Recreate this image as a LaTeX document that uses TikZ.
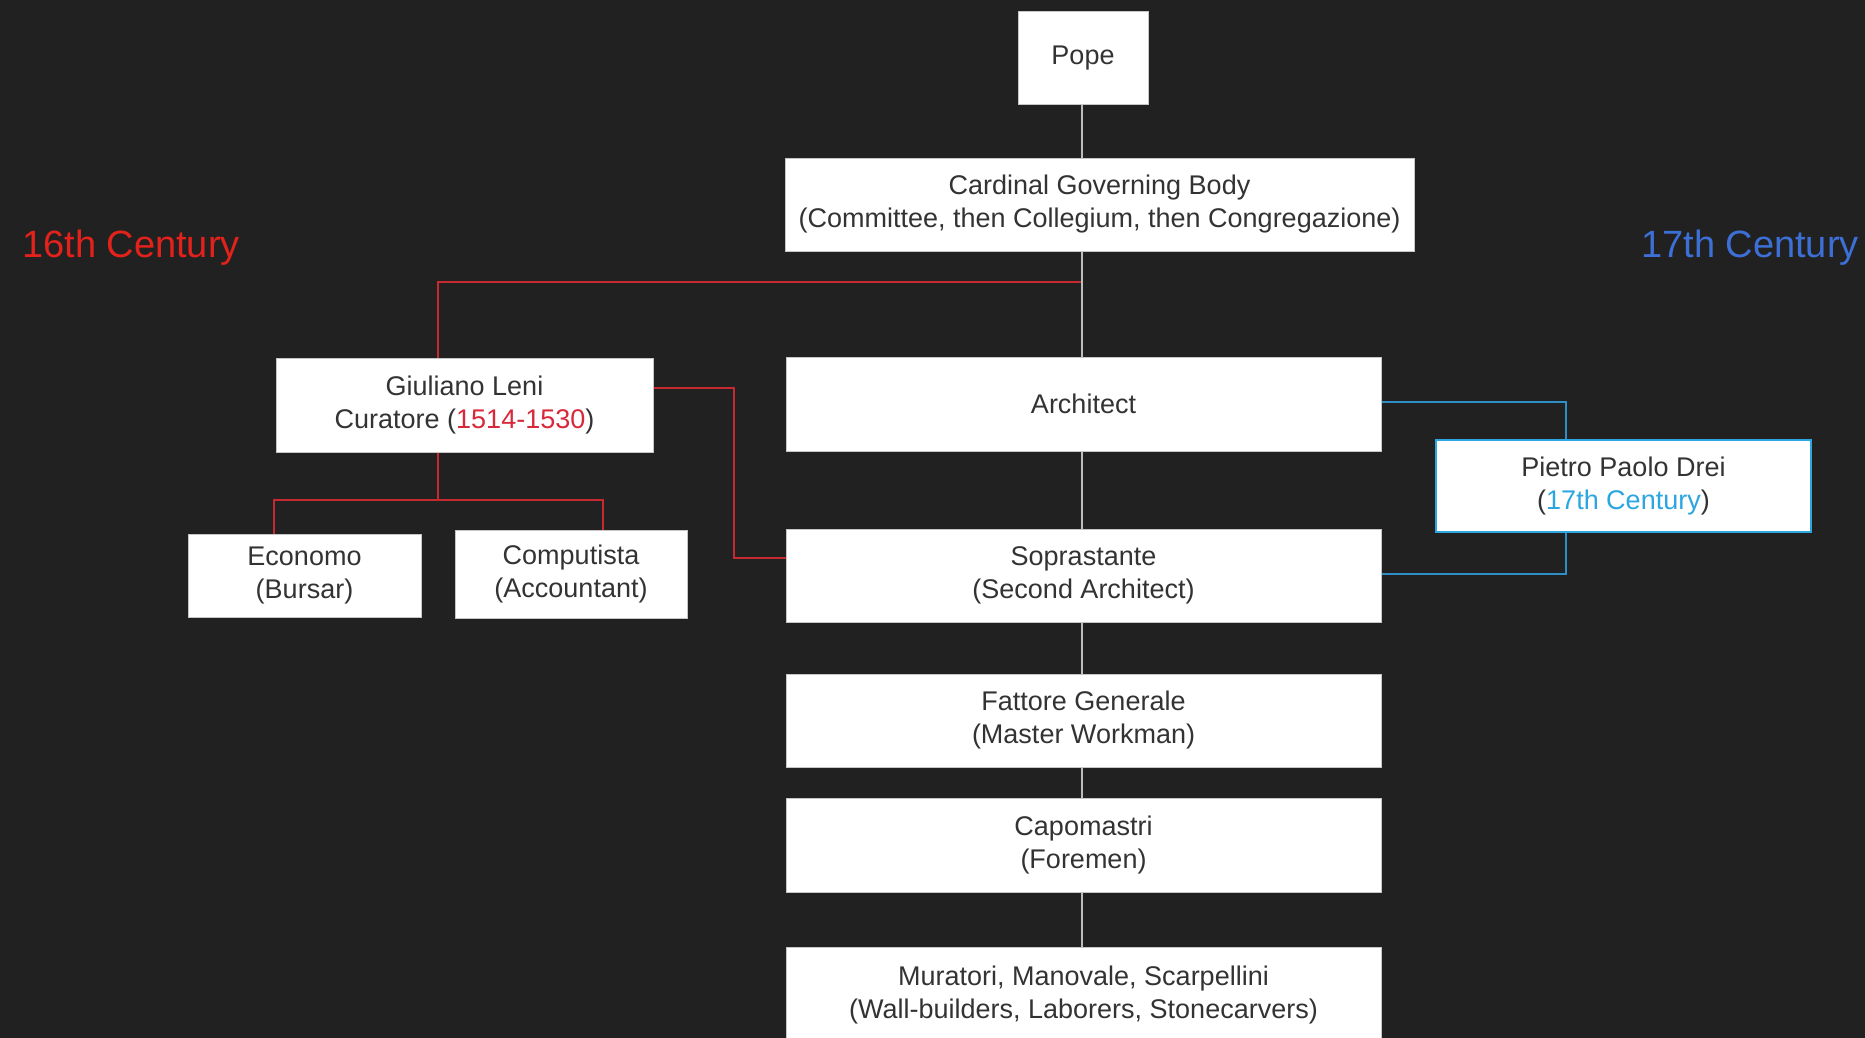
\documentclass[tikz,border=0pt]{standalone}
\usepackage{fontspec}
\setmainfont{Liberation Sans}
\definecolor{bgdark}{HTML}{212121}
\definecolor{boxtext}{HTML}{333333}
\definecolor{linegray}{HTML}{BDBDBD}
\definecolor{leniRed}{HTML}{C42A30}
\definecolor{dreiBlue}{HTML}{2E8FC6}
\definecolor{labelRed}{HTML}{E3221C}
\definecolor{labelBlue}{HTML}{3D70D6}
\definecolor{dateRed}{HTML}{D8283A}
\definecolor{dateBlue}{HTML}{2BA6E0}
\tikzset{
  office/.style={draw=gray!45, line width=1pt, fill=white, text=boxtext, align=center,
    inner sep=0pt, font=\fontsize{27}{33}\selectfont},
  chain/.style={draw=linegray, line width=2pt},
  curator/.style={draw=leniRed, line width=2.4pt},
  later/.style={draw=dreiBlue, line width=2.6pt},
  century/.style={font=\fontsize{38}{44}\selectfont}
}
\begin{document}
\begin{tikzpicture}[x=1pt, y=-1pt]
\fill[bgdark] (0,0) rectangle (1865,1038);
\useasboundingbox (0,0) rectangle (1865,1038);
\clip (0,0) rectangle (1865,1038);

\node[century, text=labelRed] (c16) at (131, 248) {16th Century};
\node[century, text=labelBlue] (c17) at (1750, 248) {17th Century};

\node[office, minimum width=130pt, minimum height=93pt] (pope) at (1083, 58.5) {Pope};
\node[office, minimum width=629pt, minimum height=93pt] (cardinal) at (1099.5, 204.5)
  {Cardinal Governing Body\\(Committee, then Collegium, then Congregazione)};
\node[office, minimum width=377pt, minimum height=94pt] (leni) at (464.5, 405)
  {Giuliano Leni\\Curatore (\textcolor{dateRed}{1514-1530})};
\node[office, minimum width=595pt, minimum height=94pt] (architect) at (1083.5, 404) {Architect};
\node[office, draw=dateBlue, line width=2.5pt, minimum width=375pt, minimum height=92pt] (drei) at (1623.5, 486)
  {Pietro Paolo Drei\\(\textcolor{dateBlue}{17th Century})};
\node[office, minimum width=233pt, minimum height=83pt] (economo) at (304.5, 575.5) {Economo\\(Bursar)};
\node[office, minimum width=232pt, minimum height=88pt] (computista) at (571, 574) {Computista\\(Accountant)};
\node[office, minimum width=595pt, minimum height=93pt] (soprastante) at (1083.5, 575.5)
  {Soprastante\\(Second Architect)};
\node[office, minimum width=595pt, minimum height=93pt] (fattore) at (1083.5, 720.5)
  {Fattore Generale\\(Master Workman)};
\node[office, minimum width=595pt, minimum height=94pt] (capomastri) at (1083.5, 845)
  {Capomastri\\(Foremen)};
\node[office, minimum width=595pt, minimum height=96pt] (muratori) at (1083.5, 995)
  {Muratori, Manovale, Scarpellini\\(Wall-builders, Laborers, Stonecarvers)};

\coordinate (split) at (1082, 282);
\coordinate (leniTop) at (438, 282);
\coordinate (staff) at (438, 500);
\coordinate (economoTop) at (274, 500);
\coordinate (computistaTop) at (603, 500);
\coordinate (leniBend) at (734, 388);
\coordinate (sopraBend) at (734, 558);
\coordinate (dreiUp) at (1566, 402);
\coordinate (dreiDown) at (1566, 574);

% 16th century curator branch
\draw[curator] (split) -- (leniTop) -- (leniTop |- leni.north);
\draw[curator] (leniTop |- leni.south) -- (staff);
\draw[curator] (economoTop |- economo.north) -- (economoTop) -- (computistaTop) -- (computistaTop |- computista.north);
\draw[curator] (leni.east |- leniBend) -- (leniBend) -- (sopraBend) -- (soprastante.west |- sopraBend);

% 17th century branch
\draw[later] (architect.east |- dreiUp) -- (dreiUp) -- (dreiUp |- drei.north);
\draw[later] (dreiDown |- drei.south) -- (dreiDown) -- (architect.east |- dreiDown);

% main line
\draw[chain] (pope.south -| split) -- (cardinal.north -| split);
\draw[chain] (cardinal.south -| split) -- (architect.north -| split);
\draw[chain] (architect.south -| split) -- (soprastante.north -| split);
\draw[chain] (soprastante.south -| split) -- (fattore.north -| split);
\draw[chain] (fattore.south -| split) -- (capomastri.north -| split);
\draw[chain] (capomastri.south -| split) -- (muratori.north -| split);
\end{tikzpicture}
\end{document}
